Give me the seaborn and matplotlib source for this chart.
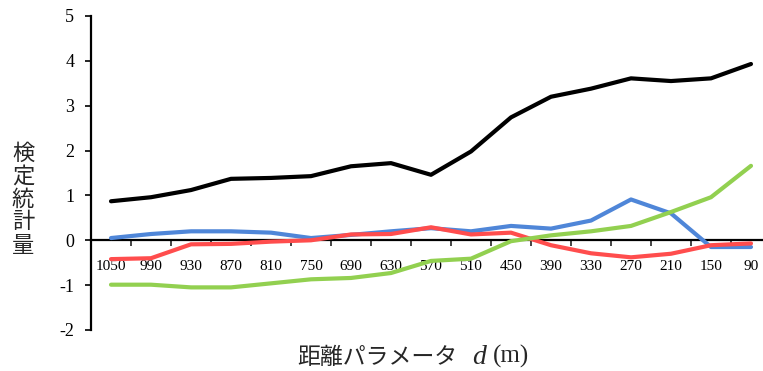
import numpy as np
import pandas as pd
import matplotlib
matplotlib.use("Agg")
import matplotlib.pyplot as plt
import seaborn as sns

# distance parameter d (m), largest to smallest
distances = ["1050", "990", "930", "870", "810", "750", "690", "630", "570",
             "510", "450", "390", "330", "270", "210", "150", "90"]

series_black = [0.87, 0.96, 1.12, 1.37, 1.39, 1.43, 1.65, 1.72, 1.46,
                1.98, 2.74, 3.20, 3.38, 3.61, 3.55, 3.61, 3.93]
series_blue = [0.05, 0.14, 0.20, 0.20, 0.17, 0.05, 0.12, 0.20, 0.27,
               0.20, 0.32, 0.26, 0.44, 0.91, 0.60, -0.15, -0.15]
series_red = [-0.42, -0.40, -0.09, -0.08, -0.03, 0.00, 0.13, 0.14, 0.29,
              0.13, 0.17, -0.11, -0.29, -0.38, -0.30, -0.11, -0.07]
series_green = [-0.99, -0.99, -1.05, -1.05, -0.96, -0.87, -0.84, -0.73, -0.46,
                -0.41, -0.02, 0.11, 0.20, 0.32, 0.63, 0.96, 1.66]

y_ticks = [-2, -1, 0, 1, 2, 3, 4, 5]

sns.set_theme(style="white")
plt.rcParams["font.family"] = ["Liberation Serif", "Noto Sans CJK JP"]

pos = np.arange(len(distances))
frames = []
for name, vals in [("black", series_black), ("blue", series_blue),
                   ("red", series_red), ("green", series_green)]:
    frames.append(pd.DataFrame({"pos": pos, "value": vals, "series": name}))
df = pd.concat(frames, ignore_index=True)

palette = {"black": "#000000", "blue": "#4F86D8", "red": "#FF4D4D",
           "green": "#92D050"}

W, H = 763, 371
fig = plt.figure(figsize=(W / 100, H / 100), dpi=100)
ax = fig.add_axes([91 / W, (H - 330) / H, 680 / W, (330 - 16) / H])

sns.lineplot(data=df, x="pos", y="value", hue="series", palette=palette,
             linewidth=3.0, ax=ax, legend=False, sort=False)

ax.set_xlim(-0.5, len(distances) - 0.5)
ax.set_ylim(-2, 5)
ax.set_yticks(y_ticks)
ax.set_yticklabels([str(v) for v in y_ticks], fontsize=13)
ax.set_xticks(pos)
ax.set_xticklabels(distances, fontsize=13)
ax.set_xticks(np.arange(len(distances) - 1) + 0.5, minor=True)

ax.spines["top"].set_visible(False)
ax.spines["right"].set_visible(False)
ax.spines["bottom"].set_position(("data", 0))
for s in ("left", "bottom"):
    ax.spines[s].set_linewidth(1.6)
    ax.spines[s].set_color("black")
    ax.spines[s].set_zorder(1)

ax.tick_params(axis="y", which="major", direction="out", length=4, width=1.2,
               pad=8, left=True, colors="black")
ax.tick_params(axis="x", which="major", length=0, pad=14, colors="black")
ax.tick_params(axis="x", which="minor", direction="out", length=4, width=1.2,
               bottom=True)
ax.set_xlabel("")
ax.set_ylabel("")
ax.grid(False)

# vertical axis title, one character per line
fig.text(23 / W, 1 - 199 / H, "検\n定\n統\n計\n量", fontsize=16,
         family=["Noto Sans CJK JP"], ha="center", va="center",
         linespacing=1.0)

# horizontal axis title
fig.text(457 / W, 1 - 357 / H, "距離パラメータ", fontsize=16.5,
         family=["Noto Sans CJK JP"], ha="right", va="center")
fig.text(472 / W, 1 - 357 / H, "d", fontsize=20, style="italic",
         family=["Liberation Serif"], ha="left", va="center")
fig.text(493 / W, 1 - 356 / H, "(m)", fontsize=18,
         family=["Liberation Serif"], ha="left", va="center")

fig.savefig("out.png", dpi=100)
